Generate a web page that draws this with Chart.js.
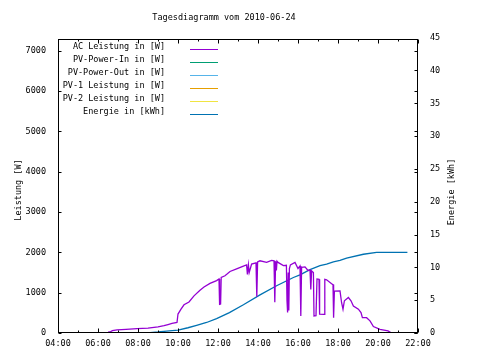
<!DOCTYPE html>
<html><head><meta charset="utf-8">
<script src="https://cdn.jsdelivr.net/npm/chart.js@4/dist/chart.umd.min.js"></script>
<style>html,body{margin:0;padding:0;background:#fff}canvas{display:block}</style>
</head><body>
<canvas id="c" width="480" height="360"></canvas>
<script>
const chartTitle = 'Tagesdiagramm vom 2010-06-24';
const leftAxisTitle = 'Leistung [W]';
const rightAxisTitle = 'Energie [kWh]';
const seriesLabels = ['AC Leistung in [W]','PV-Power-In in [W]','PV-Power-Out in [W]','PV-1 Leistung in [W]','PV-2 Leistung in [W]','Energie in [kWh]'];
const seriesColors = ['#9400d3','#009e73','#56b4e9','#e69f00','#f0e442','#0072b2'];

const xTickHours = [4,6,8,10,12,14,16,18,20,22];
const xTickLabels = ['04:00','06:00','08:00','10:00','12:00','14:00','16:00','18:00','20:00','22:00'];
const xMinorHours = [5,7,9,11,13,15,17,19,21];
const leftTicks = [0,1000,2000,3000,4000,5000,6000,7000];
const rightTicks = [0,5,10,15,20,25,30,35,40,45];

const acHours = [6.50,6.60,6.72,6.95,7.40,7.95,8.50,9.00,9.30,9.50,9.70,9.95,10.00,10.15,10.30,10.55,10.80,11.10,11.30,11.60,11.93,12.05,12.08,12.13,12.16,12.35,12.60,12.93,13.27,13.43,13.47,13.52,13.56,13.68,13.90,13.94,13.98,14.10,14.43,14.68,14.80,14.84,14.88,14.92,14.95,15.00,15.27,15.42,15.45,15.48,15.51,15.54,15.57,15.62,15.85,16.00,16.10,16.14,16.18,16.35,16.50,16.60,16.64,16.68,16.77,16.80,16.90,16.95,17.05,17.08,17.30,17.34,17.43,17.68,17.75,17.78,17.82,18.10,18.18,18.25,18.32,18.52,18.65,18.77,19.02,19.15,19.22,19.43,19.60,19.77,20.10,20.50,20.68];
const acWatts = [20,25,60,75,90,110,120,150,180,210,240,260,470,590,700,770,920,1060,1140,1230,1300,1340,710,720,1380,1420,1525,1590,1660,1690,1450,1690,1500,1710,1740,900,1760,1790,1750,1800,1790,760,1780,1550,1780,1750,1670,1680,800,510,1500,560,1600,1690,1750,1600,1660,420,1630,1640,1550,1560,1080,1540,1500,420,430,1340,1330,470,460,1330,1320,1220,1200,380,1040,1045,750,590,800,880,800,670,590,505,380,380,300,160,90,50,0];

const energyHours = [7.50,8.60,9.00,9.43,10.00,10.50,10.93,11.43,11.93,12.57,13.27,14.10,14.93,15.77,16.10,16.60,17.10,17.43,17.77,18.10,18.43,19.27,19.93,21.47];
const energyKWh = [0,0.05,0.15,0.3,0.45,0.8,1.17,1.6,2.2,3.1,4.3,5.8,7.2,8.46,8.85,9.65,10.25,10.5,10.85,11.05,11.4,12.0,12.28,12.28];

const FONT = '"DejaVu Sans Mono", monospace';
const FS = 8.5;

const toPts = (xs, ys) => xs.map((x, i) => ({x, y: ys[i]}));

const datasets = seriesLabels.map((label, i) => ({
  label,
  data: [],
  borderColor: seriesColors[i],
  backgroundColor: seriesColors[i],
  borderWidth: 1.3,
  pointRadius: 0,
  tension: 0,
  yAxisID: i === 5 ? 'y1' : 'y'
}));
datasets[0].data = toPts(acHours, acWatts);
datasets[5].data = toPts(energyHours, energyKWh);

const gnuPlugin = {
  id: 'gnu',
  afterDatasetsDraw(chart) {
    const {ctx, chartArea: a, scales} = chart;
    ctx.save();
    ctx.strokeStyle = '#000';
    ctx.lineWidth = 1;
    const L = Math.round(a.left) + 0.5, R = Math.round(a.right) - 0.5;
    const T = Math.round(a.top) + 0.5, B = Math.round(a.bottom) - 0.5;
    ctx.beginPath();
    xTickHours.forEach(h => {
      const x = Math.round(scales.x.getPixelForValue(h)) + 0.5;
      ctx.moveTo(x, B); ctx.lineTo(x, B - 4);
      ctx.moveTo(x, T); ctx.lineTo(x, T + 4);
    });
    xMinorHours.forEach(h => {
      const x = Math.round(scales.x.getPixelForValue(h)) + 0.5;
      ctx.moveTo(x, B); ctx.lineTo(x, B - 2);
      ctx.moveTo(x, T); ctx.lineTo(x, T + 2);
    });
    leftTicks.forEach(v => {
      const y = Math.round(scales.y.getPixelForValue(v)) + 0.5;
      ctx.moveTo(L, y); ctx.lineTo(L + 3, y);
      ctx.moveTo(R, y); ctx.lineTo(R - 3, y);
    });
    rightTicks.forEach(v => {
      const y = Math.round(scales.y1.getPixelForValue(v)) + 0.5;
      if (y < T) return;
      ctx.moveTo(R, y); ctx.lineTo(R - 3, y);
    });
    ctx.stroke();
    ctx.strokeRect(L, T, R - L, B - T);

    // title
    ctx.fillStyle = '#000';
    ctx.font = FS + 'px ' + FONT;
    ctx.textBaseline = 'middle';
    ctx.textAlign = 'center';
    ctx.fillText(chartTitle, 224, 18);

    // axis titles
    ctx.save();
    ctx.translate(19, 190);
    ctx.rotate(-Math.PI / 2);
    ctx.fillText(leftAxisTitle, 0, 0);
    ctx.restore();
    ctx.save();
    ctx.translate(452, 192);
    ctx.rotate(-Math.PI / 2);
    ctx.fillText(rightAxisTitle, 0, 0);
    ctx.restore();

    // legend
    ctx.textAlign = 'right';
    chart.data.datasets.forEach((ds, i) => {
      const y = 47 + i * 13;
      ctx.fillStyle = '#000';
      ctx.fillText(ds.label, 165, y);
      ctx.strokeStyle = ds.borderColor;
      ctx.beginPath();
      ctx.moveTo(190, Math.round(y + 2) + 0.5);
      ctx.lineTo(218, Math.round(y + 2) + 0.5);
      ctx.stroke();
    });
    ctx.restore();
  }
};

new Chart(document.getElementById('c'), {
  type: 'line',
  data: {datasets},
  plugins: [gnuPlugin],
  options: {
    responsive: false,
    animation: false,
    layout: {padding: {top: 39, left: 0, right: 0, bottom: 0}},
    plugins: {legend: {display: false}, title: {display: false}, tooltip: {enabled: false}},
    scales: {
      x: {
        type: 'linear', min: 4, max: 22,
        afterBuildTicks: s => { s.ticks = xTickHours.map(v => ({value: v})); },
        afterFit: s => { s.height = 27; },
        grid: {display: false, drawTicks: false},
        border: {display: false},
        ticks: {
          padding: 6, color: '#000', maxRotation: 0, autoSkip: false,
          font: {family: FONT, size: FS},
          callback: v => xTickLabels[xTickHours.indexOf(v)]
        }
      },
      y: {
        type: 'linear', position: 'left', min: 0, max: 7290,
        afterBuildTicks: s => { s.ticks = leftTicks.map(v => ({value: v})); },
        afterFit: s => { s.width = 58; },
        grid: {display: false, drawTicks: false},
        border: {display: false},
        ticks: {padding: 12, color: '#000', autoSkip: false, font: {family: FONT, size: FS}, callback: v => String(v)}
      },
      y1: {
        type: 'linear', position: 'right', min: 0, max: 44.8,
        afterBuildTicks: s => { s.ticks = rightTicks.map(v => ({value: v})); },
        afterFit: s => { s.width = 62; },
        grid: {display: false, drawTicks: false},
        border: {display: false},
        ticks: {padding: 12, color: '#000', autoSkip: false, font: {family: FONT, size: FS}, callback: v => String(v)}
      }
    }
  }
});
</script>
</body></html>
